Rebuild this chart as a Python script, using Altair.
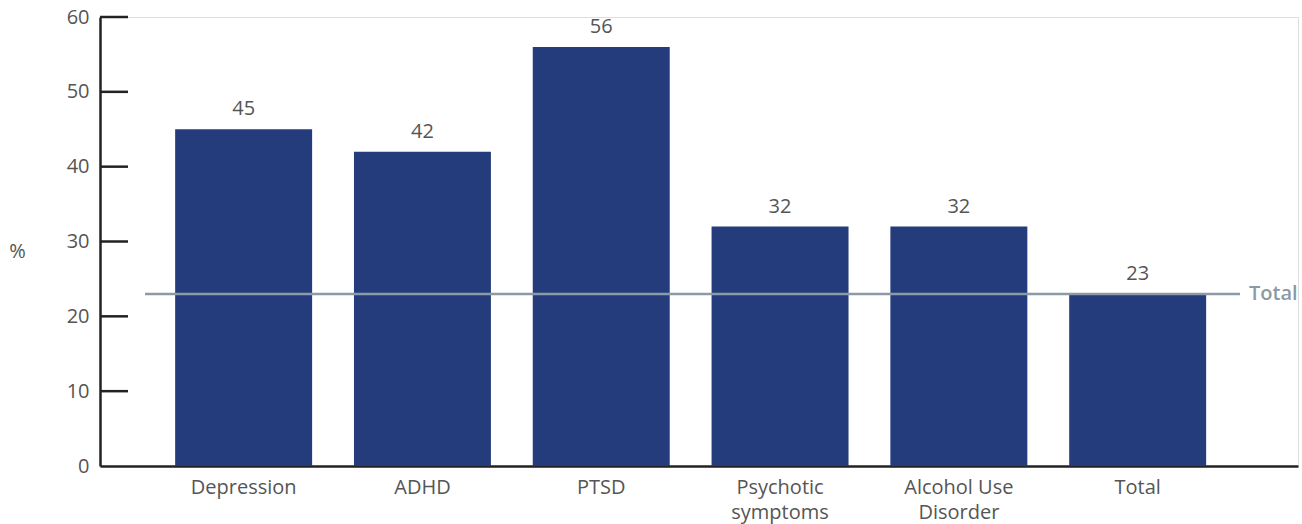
import altair as alt
import pandas as pd

categories = ["Depression", "ADHD", "PTSD", "Psychotic symptoms", "Alcohol Use Disorder", "Total"]
values = [45, 42, 56, 32, 32, 23]
y_ticks = [10, 20, 30, 40, 50, 60]
total_value = 23
total_label = "Total"

FONT = "Open Sans"
FS = 20
BAR = "#243c7c"
AXIS = "#222222"
TEXT = "#555555"
REF = "#8a9aa6"

bars_df = pd.DataFrame({"category": categories, "value": values})
ticks_df = pd.DataFrame({"tick": y_ticks})
ref_df = pd.DataFrame({"value": [total_value], "label": [total_label]})

x_scale = alt.Scale(domain=categories, paddingInner=0.234, paddingOuter=0.467, align=0.45)
y_scale = alt.Scale(domain=[0, 60], nice=False)

label_expr = (
    "datum.label == 'Psychotic symptoms' ? ['Psychotic', 'symptoms'] : "
    "datum.label == 'Alcohol Use Disorder' ? ['Alcohol Use', 'Disorder'] : datum.label"
)

bars = alt.Chart(bars_df).mark_bar(color=BAR).encode(
    x=alt.X(
        "category:N", scale=x_scale, sort=categories,
        axis=alt.Axis(
            title=None, labelAngle=0, ticks=False, labelPadding=11,
            labelFontSize=FS, labelColor=TEXT, labelFont=FONT,
            labelExpr=label_expr, labelLineHeight=25,
            domainColor=AXIS, domainWidth=2.5, labelBaseline="top",
        ),
    ),
    y=alt.Y(
        "value:Q", scale=y_scale,
        axis=alt.Axis(
            title="%", titleAngle=0, titleX=-83, titleY=234, titleAlign="center",
            titleBaseline="middle", titleFontSize=FS, titleFont=FONT,
            titleColor=TEXT, titleFontWeight="normal",
            values=[0] + y_ticks, ticks=False, labelPadding=11,
            labelFontSize=FS, labelColor=TEXT, labelFont=FONT,
            domainColor=AXIS, domainWidth=2.5, grid=False,
        ),
    ),
)

value_labels = alt.Chart(bars_df).mark_text(
    baseline="alphabetic", dy=-14, fontSize=FS, font=FONT, color=TEXT
).encode(
    x=alt.X("category:N", scale=x_scale, sort=categories),
    y=alt.Y("value:Q", scale=y_scale),
    text="value:Q",
)

# inward-facing y-axis ticks
tick_marks = alt.Chart(ticks_df).mark_rule(color=AXIS, strokeWidth=2.5).encode(
    y=alt.Y("tick:Q", scale=y_scale),
    x=alt.value(0),
    x2=alt.value(28),
)

ref_line = alt.Chart(ref_df).mark_rule(color=REF, strokeWidth=2.5).encode(
    y=alt.Y("value:Q", scale=y_scale),
    x=alt.value(45),
    x2=alt.value(1140),
)

ref_text = alt.Chart(ref_df).mark_text(
    align="left", baseline="middle", fontSize=FS, font=FONT, color=REF, fontWeight=600
).encode(
    y=alt.Y("value:Q", scale=y_scale),
    x=alt.value(1149),
    text="label:N",
)

chart = alt.layer(bars, tick_marks, ref_line, value_labels, ref_text).properties(
    width=1198,
    height=449,
    autosize=alt.AutoSizeParams(type="none"),
    padding={"left": 100, "top": 17, "right": 4, "bottom": 58},
).configure_view(stroke=None).configure(background="white")

chart.save("out.html", embed_options={"renderer": "svg", "actions": False})
